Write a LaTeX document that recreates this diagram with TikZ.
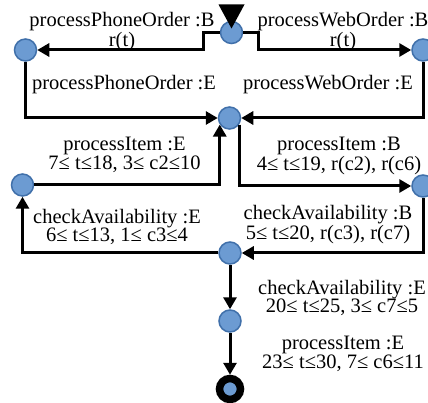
\documentclass[tikz,border=0pt]{standalone}
\usepackage{fontspec}
\setmainfont{Liberation Serif}
\usetikzlibrary{arrows.meta}
\definecolor{nodefill}{RGB}{108,155,210}
\definecolor{nodeline}{RGB}{64,112,170}
\begin{document}
\begin{tikzpicture}[x=1pt,y=-1pt,
  state/.style={circle,fill=nodefill,draw=nodeline,line width=1.5pt,minimum size=22pt,inner sep=0pt},
  final/.style={circle,fill=nodefill,draw=black,line width=7.5pt,minimum size=21pt,inner sep=0pt},
  edge/.style={line width=3pt,-{Triangle[length=12pt,width=13pt]}},
  lbl/.style={font=\fontsize{20.5}{18.5}\selectfont,align=center,inner sep=0pt,anchor=north},
]
\useasboundingbox (0,0) rectangle (428,403);
% states
\node[state] (T)  at (231.5,32.5) {};
\node[state] (L1) at (25.5,50) {};
\node[state] (R1) at (423,50) {};
\node[state] (M)  at (229.5,118) {};
\node[state] (L2) at (22.5,185) {};
\node[state] (R2) at (423,186) {};
\node[state] (M2) at (230,253) {};
\node[state] (M3) at (230,321) {};
\node[final] (E)  at (230,389) {};
% start marker
\fill (T.center) ++(-13,-28) -- ++(26,0) -- ++(-13,24) -- cycle;
% edges
\draw[edge] (T.west) -- ++(-16,0) |- (L1);
\draw[edge] (T.east) -- ++(15,0) |- (R1);
\draw[edge] (L1) |- (M);
\draw[edge] (R1) |- (M);
\draw[edge] (L2) -| (M.214);
\draw[edge] (M.-34) |- (R2);
\draw[edge] (R2) |- (M2);
\draw[edge] (M2) -| (L2);
\draw[edge] (M2) -- (M3);
\draw[edge] (M3) -- (E);
% labels
\node[lbl] (lPB)  at (122,12)  {processPhoneOrder :B\\r(t)};
\node[lbl] (lWB)  at (343,12)  {processWebOrder :B\\r(t)};
\node[lbl] (lPE)  at (124,75)  {processPhoneOrder :E};
\node[lbl] (lWE)  at (328,75)  {processWebOrder :E};
\node[lbl] (lIE1) at (124.5,137) {processItem :E\\7≤ t≤18, 3≤ c2≤10};
\node[lbl] (lIB)  at (339,137) {processItem :B\\4≤ t≤19, r(c2), r(c6)};
\node[lbl] (lCB)  at (328,205) {checkAvailability :B\\5≤ t≤20, r(c3), r(c7)};
\node[lbl] (lCE1) at (117,209) {checkAvailability :E\\6≤ t≤13, 1≤ c3≤4};
\node[lbl] (lCE2) at (342,280) {checkAvailability :E\\20≤ t≤25, 3≤ c7≤5};
\node[lbl] (lIE2) at (343,336) {processItem :E\\23≤ t≤30, 7≤ c6≤11};
\end{tikzpicture}
\end{document}
